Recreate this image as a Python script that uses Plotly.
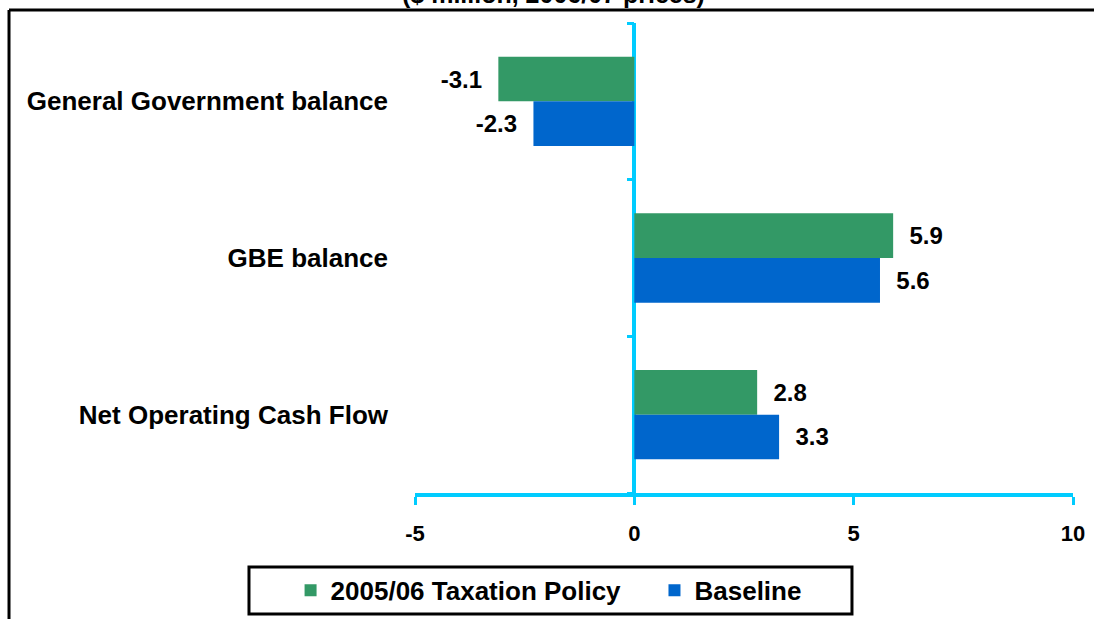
import plotly.graph_objects as go

categories = ["General Government balance", "GBE balance", "Net Operating Cash Flow"]
policy_name = "2005/06 Taxation Policy"
policy_values = [-3.1, 5.9, 2.8]
baseline_name = "Baseline"
baseline_values = [-2.3, 5.6, 3.3]
x_ticks = [-5, 0, 5, 10]
x_tick_text = ["-5", "0", "5", "10"]
subtitle = "($ million, 2006/07 prices)"

FONT = "Liberation Sans, Arial, sans-serif"
CYAN = "#00CCFF"
GREEN = "#339966"
BLUE = "#0066CC"
NBSP = "\u00a0"


def _labels(values):
    # pad on the side away from the bar so labels sit a little off the bar end
    return [f"{v:.1f}{NBSP * 2}" if v < 0 else f"{NBSP * 2}{v:.1f}" for v in values]


fig = go.Figure()
for name, values, color in [
    (policy_name + NBSP * 4, policy_values, GREEN),  # trailing pad widens legend gap
    (baseline_name, baseline_values, BLUE),
]:
    fig.add_trace(
        go.Bar(
            x=values,
            y=categories,
            orientation="h",
            name=name,
            marker={"color": color, "line": {"width": 0}},
            text=_labels(values),
            textposition="outside",
            textfont={"family": FONT, "size": 24, "color": "black", "weight": "bold"},
            cliponaxis=False,
        )
    )

# invisible helper so the boundary-tick axis on the zero line is drawn
fig.add_trace(
    go.Scatter(x=[0], y=[0], yaxis="y2", mode="markers", marker={"opacity": 0},
               showlegend=False, hoverinfo="skip")
)

fig.update_layout(
    width=1094,
    height=619,
    barmode="group",
    bargap=0.43,
    bargroupgap=0,
    paper_bgcolor="white",
    plot_bgcolor="white",
    font={"family": FONT, "color": "black"},
    margin={"l": 415, "r": 21, "t": 23, "b": 126, "autoexpand": False},
    xaxis={
        "range": [-5, 10],
        "tickvals": x_ticks,
        "ticktext": x_tick_text,
        "showgrid": False,
        "showline": True,
        "linecolor": CYAN,
        "linewidth": 4,
        "ticks": "outside",
        "tickcolor": CYAN,
        "tickwidth": 3,
        "ticklen": 8,
        "ticklabelstandoff": 10,
        "zeroline": True,
        "zerolinecolor": CYAN,
        "zerolinewidth": 4,
        "automargin": False,
        "tickfont": {"family": FONT, "size": 22, "color": "black", "weight": "bold"},
    },
    yaxis={
        "type": "category",
        "range": [2.5, -0.5],
        "showgrid": False,
        "showline": False,
        "ticks": "",
        "ticklabelstandoff": 26,
        "automargin": False,
        "tickfont": {"family": FONT, "size": 26, "color": "black", "weight": "bold"},
    },
    # tick marks on the zero line at category boundaries
    yaxis2={
        "overlaying": "y",
        "anchor": "free",
        "position": 1 / 3,
        "range": [2.5, -0.5],
        "tickvals": [-0.5, 0.5, 1.5, 2.5],
        "showticklabels": False,
        "showgrid": False,
        "zeroline": False,
        "showline": False,
        "ticks": "outside",
        "ticklen": 7,
        "tickwidth": 3,
        "tickcolor": CYAN,
        "automargin": False,
    },
    showlegend=True,
    legend={
        "orientation": "h",
        "x": 0.203,
        "xanchor": "center",
        "y": -0.207,
        "yanchor": "middle",
        "bgcolor": "rgba(0,0,0,0)",
        "borderwidth": 0,
        "font": {"family": FONT, "size": 26, "color": "black", "weight": "bold"},
    },
    annotations=[
        {
            "text": f"<b>{subtitle}</b>",
            "xref": "paper",
            "yref": "paper",
            "x": 0.21,
            "y": 1.027,
            "xanchor": "center",
            "yanchor": "bottom",
            "showarrow": False,
            "font": {"family": FONT, "size": 25, "color": "black"},
        }
    ],
    shapes=[
        # outer frame (left and top edges)
        {"type": "line", "xref": "paper", "yref": "paper",
         "x0": -0.617, "x1": -0.617, "y0": 1.0277, "y1": -0.3,
         "line": {"color": "black", "width": 3}},
        {"type": "line", "xref": "paper", "yref": "paper",
         "x0": -0.617, "x1": 1.05, "y0": 1.0277, "y1": 1.0277,
         "line": {"color": "black", "width": 3}},
        # legend box
        {"type": "rect", "xref": "paper", "yref": "paper",
         "x0": -0.2523, "x1": 0.6641, "y0": -0.1574, "y1": -0.2574,
         "line": {"color": "black", "width": 3}},
    ],
)

fig.write_html(
    "out.html",
    config={"displayModeBar": False},
    post_script="document.body.style.margin='0';",
)
